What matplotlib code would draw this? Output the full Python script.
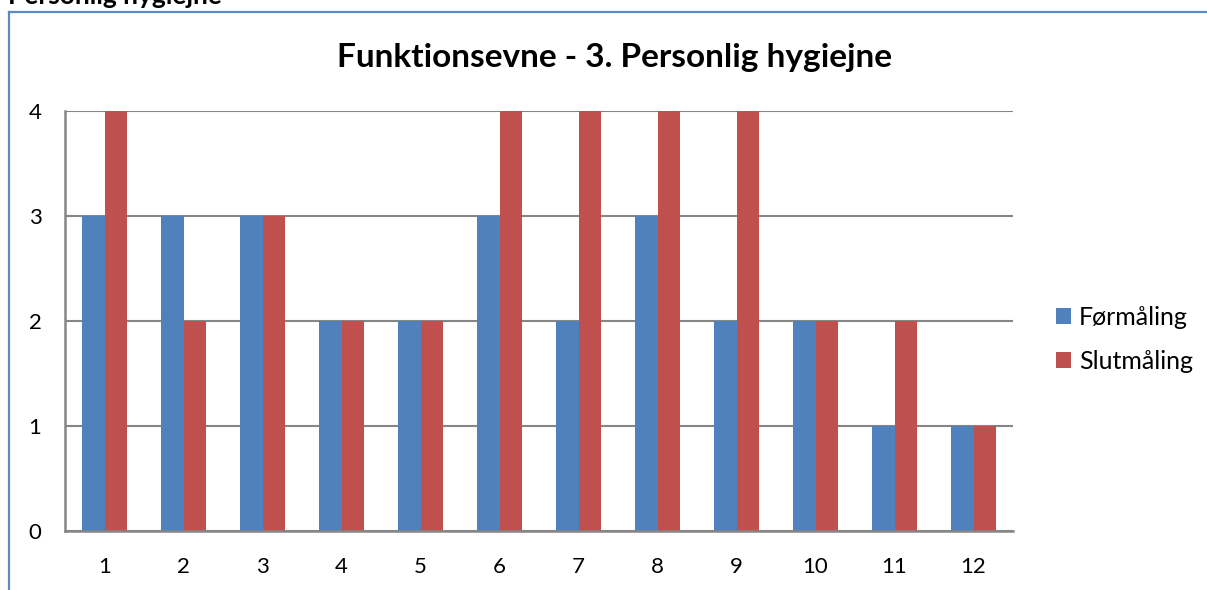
import numpy as np
import matplotlib.pyplot as plt
from matplotlib.lines import Line2D

categories = ["1", "2", "3", "4", "5", "6", "7", "8", "9", "10", "11", "12"]
formaaling = [3, 3, 3, 2, 2, 3, 2, 3, 2, 2, 1, 1]
slutmaaling = [4, 2, 3, 2, 2, 4, 4, 4, 4, 2, 2, 1]
y_ticks = [0, 1, 2, 3, 4]

plt.rcParams['font.family'] = ['Lato', 'DejaVu Sans']

fig = plt.figure(figsize=(12.07, 5.9), dpi=100)
ax = fig.add_axes([0.0539, 0.1, 0.7854, 0.7119])

x = np.arange(len(categories))
w = 0.28
ax.bar(x - w / 2, formaaling, w, color="#4F81BD", label="Førmåling", zorder=3)
ax.bar(x + w / 2, slutmaaling, w, color="#C0504D", label="Slutmåling", zorder=3)

ax.set_xlim(-0.5, len(categories) - 0.5)
ax.set_ylim(0, 4)
ax.set_yticks(y_ticks)
ax.set_xticks(x)
ax.set_xticklabels(categories)
ax.tick_params(axis="both", length=0, labelsize=16)
ax.tick_params(axis="y", pad=17)
ax.tick_params(axis="x", pad=19)
ax.yaxis.grid(True, color="#868686", linewidth=1.5, zorder=0)
for s in ["top", "right"]:
    ax.spines[s].set_visible(False)
for s in ["left", "bottom"]:
    ax.spines[s].set_color("#868686")
    ax.spines[s].set_linewidth(1.8)
    ax.spines[s].set_zorder(4)

fig.text(0.5087, 0.903, "Funktionsevne - 3. Personlig hygiejne", ha="center",
         va="center", fontsize=24, fontweight="bold")
fig.text(0.007, 1 - 4 / 590, "Personlig hygiejne", ha="left", va="baseline",
         fontsize=19, fontweight="bold")

# outer frame (left and top)
fig.add_artist(Line2D([9 / 1207, 9 / 1207], [0, 1 - 12 / 590], color="#5B8AC6",
                      linewidth=1.6, transform=fig.transFigure))
fig.add_artist(Line2D([9 / 1207, 1], [1 - 12 / 590, 1 - 12 / 590], color="#5B8AC6",
                      linewidth=1.6, transform=fig.transFigure))

fig.legend(loc="center left", bbox_to_anchor=(0.856, 0.4254), frameon=False,
           fontsize=18, handlelength=0.6, handleheight=0.6, handletextpad=0.32,
           labelspacing=0.84)

fig.savefig("out.png", dpi=100)
